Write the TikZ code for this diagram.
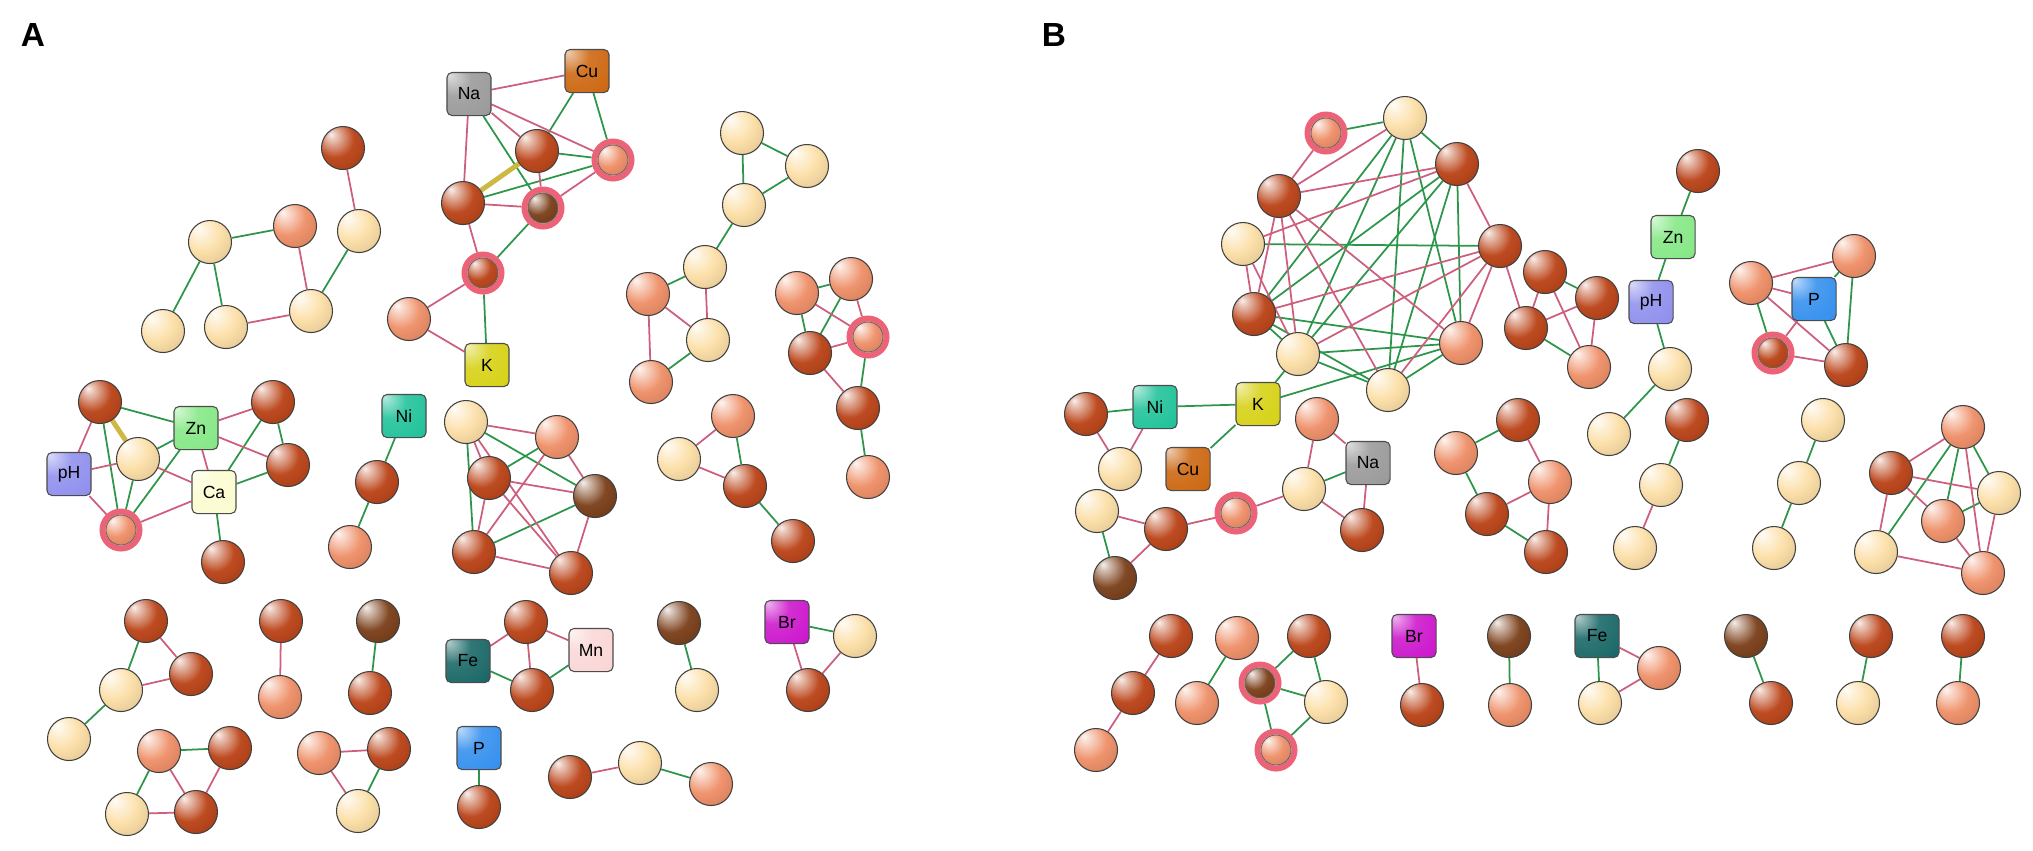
\documentclass[tikz,border=0pt]{standalone}
\usepackage{fontspec}
\setmainfont{Liberation Sans}
\usetikzlibrary{backgrounds}
\definecolor{cD}{RGB}{186,66,22}
\definecolor{cS}{RGB}{238,142,102}
\definecolor{cC}{RGB}{252,222,165}
\definecolor{cB}{RGB}{122,62,24}
\definecolor{ringc}{RGB}{236,98,118}
\definecolor{edgeG}{RGB}{45,150,75}
\definecolor{edgeP}{RGB}{205,95,125}
\definecolor{edgeY}{RGB}{205,185,65}
\definecolor{xNa}{RGB}{155,155,155}
\definecolor{xCu}{RGB}{205,105,20}
\definecolor{xK}{RGB}{215,210,25}
\definecolor{xNi}{RGB}{35,195,155}
\definecolor{xZn}{RGB}{135,232,135}
\definecolor{xpH}{RGB}{145,145,238}
\definecolor{xCa}{RGB}{252,252,210}
\definecolor{xFe}{RGB}{28,105,105}
\definecolor{xMn}{RGB}{250,215,215}
\definecolor{xBr}{RGB}{205,25,205}
\definecolor{xP}{RGB}{55,145,238}
\colorlet{sphc}{red}
\pgfdeclareradialshading[sphc]{mysph}{\pgfqpoint{-14bp}{16bp}}{color(0bp)=(sphc!8!white); color(5bp)=(sphc!30!white); color(22bp)=(sphc!95!white); color(42bp)=(sphc!88!black); color(70bp)=(sphc!65!black)}
\pgfdeclareradialshading[sphc]{mybox}{\pgfqpoint{-22bp}{22bp}}{color(0bp)=(sphc!35!white); color(20bp)=(sphc!90!white); color(45bp)=(sphc); color(75bp)=(sphc!70!black); color(100bp)=(sphc!45!black)}
\tikzset{
  sc/.code={\colorlet{sphc}{#1}},
  sph/.style={circle, draw=black!75, line width=0.3pt, minimum size=0.43cm, inner sep=0pt, shading=mysph},
  rng/.style={circle, draw=ringc, line width=1.7pt, minimum size=0.37cm, inner sep=0pt, fill=white},
  rin/.style={circle, draw=black!60, line width=0.25pt, minimum size=0.30cm, inner sep=0pt, shading=mysph},
  lbox/.style={rectangle, rounded corners=0.05cm, draw=black!70, line width=0.3pt, minimum width=0.44cm, minimum height=0.43cm, inner sep=0pt, shading=mybox, font=\fontsize{5}{6}\selectfont},
  panel/.style={font=\bfseries\fontsize{9.5}{11}\selectfont},
  ge/.style={draw=edgeG, line width=0.5pt},
  pe/.style={draw=edgeP, line width=0.5pt},
  ye/.style={draw=edgeY, line width=1.4pt}
}
\newcommand\mkball[4]{\node[sph,sc=#1] (#2) at (#3,#4) {};}
\newcommand\mkring[4]{\node[rng] (#2) at (#3,#4) {};\node[rin,sc=#1] (#2i) at (#3,#4) {};}
\newcommand\mkbox[5]{\node[lbox,sc=#1] (#2) at (#3,#4) {#5};}
\begin{document}
\begin{tikzpicture}[x=0.01cm,y=-0.01cm]
\useasboundingbox (0,0) rectangle (2033,850);
\node[panel] (lA) at (33,35) {A};
\node[panel] (lB) at (1054,35) {B};
% ---------- Panel A ----------
\mkball{cD}{a1}{343}{148}
\mkball{cS}{a2}{295}{226}
\mkball{cC}{a3}{359}{231}
\mkball{cC}{a4}{210}{242}
\mkball{cC}{a5}{163}{331}
\mkball{cC}{a6}{226}{327}
\mkball{cC}{a7}{311}{311}
\mkbox{xNa}{NaA}{469}{94}{Na}
\mkbox{xCu}{CuA}{587}{71}{Cu}
\mkball{cD}{b1}{537}{151}
\mkring{cS}{b2}{613}{160}
\mkball{cD}{b3}{463}{203}
\mkring{cB}{b4}{543}{208}
\mkring{cD}{b5}{483}{273}
\mkball{cS}{b6}{409}{319}
\mkbox{xK}{KA}{487}{365}{K}
\mkball{cC}{c1}{742}{133}
\mkball{cC}{c2}{807}{166}
\mkball{cC}{c3}{744}{205}
\mkball{cC}{c4}{705}{267}
\mkball{cS}{c5}{648}{294}
\mkball{cC}{c6}{708}{340}
\mkball{cS}{c7}{651}{382}
\mkball{cS}{d1}{797}{293}
\mkball{cS}{d2}{851}{279}
\mkring{cS}{d3}{868}{337}
\mkball{cD}{d4}{810}{353}
\mkball{cD}{d5}{858}{408}
\mkball{cS}{d6}{868}{477}
\mkball{cS}{e1}{733}{416}
\mkball{cC}{e2}{679}{459}
\mkball{cD}{e3}{745}{486}
\mkball{cD}{e4}{793}{541}
\mkball{cD}{f1}{100}{402}
\mkbox{xZn}{ZnA}{196}{428}{Zn}
\mkball{cD}{f2}{273}{402}
\mkbox{xpH}{pHA}{69}{474}{pH}
\mkball{cC}{f3}{138}{459}
\mkball{cD}{f4}{288}{465}
\mkbox{xCa}{CaA}{214}{492}{Ca}
\mkring{cS}{f5}{121}{530}
\mkball{cD}{f6}{223}{562}
\mkbox{xNi}{NiA}{404}{416}{Ni}
\mkball{cD}{g1}{377}{482}
\mkball{cS}{g2}{350}{547}
\mkball{cC}{h1}{466}{422}
\mkball{cS}{h2}{557}{437}
\mkball{cD}{h3}{489}{478}
\mkball{cB}{h4}{595}{496}
\mkball{cD}{h5}{474}{552}
\mkball{cD}{h6}{571}{573}
\mkball{cD}{j1}{146}{621}
\mkball{cD}{j2}{191}{674}
\mkball{cC}{j3}{121}{690}
\mkball{cC}{j4}{69}{739}
\mkball{cD}{k1}{281}{621}
\mkball{cS}{k2}{280}{697}
\mkball{cB}{l1}{378}{621}
\mkball{cD}{l2}{370}{693}
\mkball{cS}{m1}{159}{751}
\mkball{cD}{m2}{230}{748}
\mkball{cC}{m3}{127}{814}
\mkball{cD}{m4}{196}{812}
\mkball{cS}{n1}{319}{753}
\mkball{cD}{n2}{389}{749}
\mkball{cC}{n3}{358}{811}
\mkbox{xP}{PA}{479}{748}{P}
\mkball{cD}{o1}{479}{807}
\mkbox{xFe}{FeA}{468}{661}{Fe}
\mkball{cD}{p1}{526}{622}
\mkbox{xMn}{MnA}{591}{650}{Mn}
\mkball{cD}{p2}{532}{690}
\mkball{cB}{q1}{679}{623}
\mkball{cC}{q2}{697}{690}
\mkbox{xBr}{BrA}{787}{622}{Br}
\mkball{cC}{r1}{855}{636}
\mkball{cD}{r2}{808}{690}
\mkball{cD}{s1}{570}{777}
\mkball{cC}{s2}{640}{763}
\mkball{cS}{s3}{711}{784}
% ---------- Panel B ----------
\mkring{cS}{t1}{1326}{133}
\mkball{cC}{t2}{1405}{118}
\mkball{cD}{t3}{1457}{164}
\mkball{cD}{t4}{1279}{196}
\mkball{cC}{t5}{1243}{244}
\mkball{cD}{t6}{1500}{246}
\mkball{cD}{t7}{1254}{314}
\mkball{cS}{t8}{1461}{343}
\mkball{cC}{t9}{1298}{354}
\mkball{cC}{t10}{1388}{390}
\mkball{cD}{u0}{1086}{414}
\mkbox{xNi}{NiB}{1155}{407}{Ni}
\mkbox{xK}{KB}{1258}{404}{K}
\mkbox{xCu}{CuB}{1188}{469}{Cu}
\mkball{cC}{u1}{1120}{469}
\mkball{cC}{v1}{1097}{511}
\mkball{cD}{v2}{1166}{529}
\mkring{cS}{v3}{1236}{513}
\mkball{cC}{v4}{1304}{489}
\mkball{cS}{v5}{1317}{419}
\mkbox{xNa}{NaB}{1368}{463}{Na}
\mkball{cD}{v6}{1362}{530}
\mkball{cB}{v7}{1115}{578}
\mkball{cS}{w1}{1456}{453}
\mkball{cD}{w2}{1518}{420}
\mkball{cS}{w3}{1550}{482}
\mkball{cD}{w4}{1487}{514}
\mkball{cD}{w5}{1546}{552}
\mkball{cD}{ll1}{1545}{272}
\mkball{cD}{ll2}{1597}{298}
\mkball{cD}{ll3}{1526}{328}
\mkball{cS}{ll4}{1589}{367}
\mkball{cD}{gg1}{1698}{171}
\mkbox{xZn}{ZnB}{1673}{237}{Zn}
\mkbox{xpH}{pHB}{1651}{302}{pH}
\mkball{cC}{gg2}{1670}{369}
\mkball{cC}{gg3}{1609}{434}
\mkball{cD}{hh1}{1687}{420}
\mkball{cC}{hh2}{1661}{485}
\mkball{cC}{hh3}{1635}{548}
\mkball{cS}{ii1}{1751}{283}
\mkball{cS}{ii2}{1854}{256}
\mkbox{xP}{PB}{1814}{299}{P}
\mkring{cD}{ii3}{1773}{353}
\mkball{cD}{ii4}{1846}{365}
\mkball{cC}{jj1}{1823}{420}
\mkball{cC}{jj2}{1799}{483}
\mkball{cC}{jj3}{1774}{548}
\mkball{cS}{kk1}{1963}{427}
\mkball{cD}{kk2}{1891}{473}
\mkball{cC}{kk3}{1999}{493}
\mkball{cS}{kk4}{1943}{521}
\mkball{cC}{kk5}{1876}{552}
\mkball{cS}{kk6}{1983}{573}
\mkball{cD}{x1}{1171}{636}
\mkball{cD}{x2}{1133}{693}
\mkball{cS}{x3}{1096}{750}
\mkball{cS}{y1}{1237}{638}
\mkball{cS}{y2}{1197}{703}
\mkball{cD}{z1}{1309}{636}
\mkring{cB}{z2}{1260}{683}
\mkball{cC}{z3}{1326}{702}
\mkring{cS}{z4}{1276}{750}
\mkbox{xBr}{BrB}{1414}{636}{Br}
\mkball{cD}{aa1}{1422}{705}
\mkball{cB}{bb1}{1509}{636}
\mkball{cS}{bb2}{1510}{705}
\mkbox{xFe}{FeB}{1597}{636}{Fe}
\mkball{cS}{cc1}{1659}{668}
\mkball{cC}{cc2}{1600}{703}
\mkball{cB}{dd1}{1746}{636}
\mkball{cD}{dd2}{1771}{703}
\mkball{cD}{ee1}{1871}{636}
\mkball{cC}{ee2}{1858}{703}
\mkball{cD}{ff1}{1963}{636}
\mkball{cS}{ff2}{1958}{703}
% ---------- Edges ----------
\begin{scope}[on background layer]
\foreach \a/\b in {a2/a4,a3/a7,a4/a5,a4/a6,
  NaA/b4,CuA/b1,CuA/b2,b1/b2,b3/b2,b4/b5,b5/KA,
  c1/c2,c1/c3,c2/c3,c3/c4,c4/c5,c6/c7,
  d1/d2,d1/d4,d2/d4,d3/d5,d5/d6,
  e1/e3,e3/e4,
  f1/ZnA,f1/f5,ZnA/f3,ZnA/f5,f2/CaA,f2/f4,CaA/f4,f3/f5,CaA/f6,
  NiA/g1,g1/g2,
  h1/h4,h1/h5,h2/h3,h4/h5,
  j1/j3,j3/j4,l1/l2,m1/m2,m1/m3,n2/n3,PA/o1,FeA/p2,p2/MnA,q1/q2,BrA/r1,s2/s3,
  t1/t2,t2/t3,t2/t7,t2/t9,t2/t10,t2/t8,t3/t7,t3/t9,t3/t10,t3/t8,t5/t6,t7/t8,t7/t9,t7/t10,t9/t8,t9/t10,t8/t10,
  KB/t9,KB/t8,u0/NiB,NiB/KB,KB/CuB,
  v1/v7,v4/NaB,
  w1/w2,w1/w4,w4/w5,
  ll1/ll2,ll3/ll4,
  gg1/ZnB,ZnB/pHB,pHB/gg2,gg2/gg3,hh1/hh2,
  ii2/PB,ii1/ii3,PB/ii4,ii2/ii4,jj1/jj2,jj2/jj3,
  kk1/kk5,kk1/kk4,kk1/kk3,kk4/kk3,
  y1/y2,z1/z2,z1/z3,z2/z3,z2/z4,z4/z3,bb1/bb2,FeB/cc2,dd1/dd2,ee1/ee2,ff1/ff2}
  \draw[ge] (\a) -- (\b);
\foreach \a/\b in {a1/a3,a2/a7,a6/a7,
  NaA/CuA,NaA/b3,NaA/b1,NaA/b2,b3/b4,b1/b4,b4/b2,b3/b5,b5/b6,b6/KA,
  c4/c6,c5/c6,c5/c7,
  d1/d3,d2/d3,d4/d3,d4/d5,
  e1/e2,e2/e3,
  f1/pHA,ZnA/f2,ZnA/CaA,ZnA/f4,pHA/f3,pHA/f5,f3/CaA,f5/CaA,
  h1/h2,h1/h3,h1/h6,h2/h5,h2/h4,h3/h4,h3/h6,h4/h6,h5/h6,h3/h5,
  j1/j2,j3/j2,k1/k2,m1/m4,m2/m4,m3/m4,n1/n2,n1/n3,FeA/p1,p1/MnA,p1/p2,BrA/r2,r1/r2,s1/s2,
  t1/t4,t2/t4,t4/t3,t5/t3,t4/t7,t4/t9,t4/t8,t4/t10,t5/t7,t5/t9,t3/t6,t6/t7,t6/t9,t6/t10,t6/t8,t6/ll3,
  u0/u1,NiB/u1,
  v1/v2,v2/v7,v2/v3,v3/v4,v4/v5,v5/NaB,NaB/v6,v4/v6,
  w2/w3,w3/w4,w3/w5,
  ll1/ll3,ll1/ll4,ll3/ll2,ll2/ll4,
  hh2/hh3,
  ii1/ii2,ii1/PB,ii1/ii4,PB/ii3,ii3/ii4,
  kk1/kk2,kk1/kk6,kk2/kk3,kk2/kk4,kk2/kk5,kk3/kk6,kk4/kk6,kk5/kk6,
  x1/x2,x2/x3,BrB/aa1,FeB/cc1,cc1/cc2}
  \draw[pe] (\a) -- (\b);
\draw[ye] (b1) -- (b3);
\draw[ye] (f1) -- (f3);
\end{scope}
\end{tikzpicture}
\end{document}
